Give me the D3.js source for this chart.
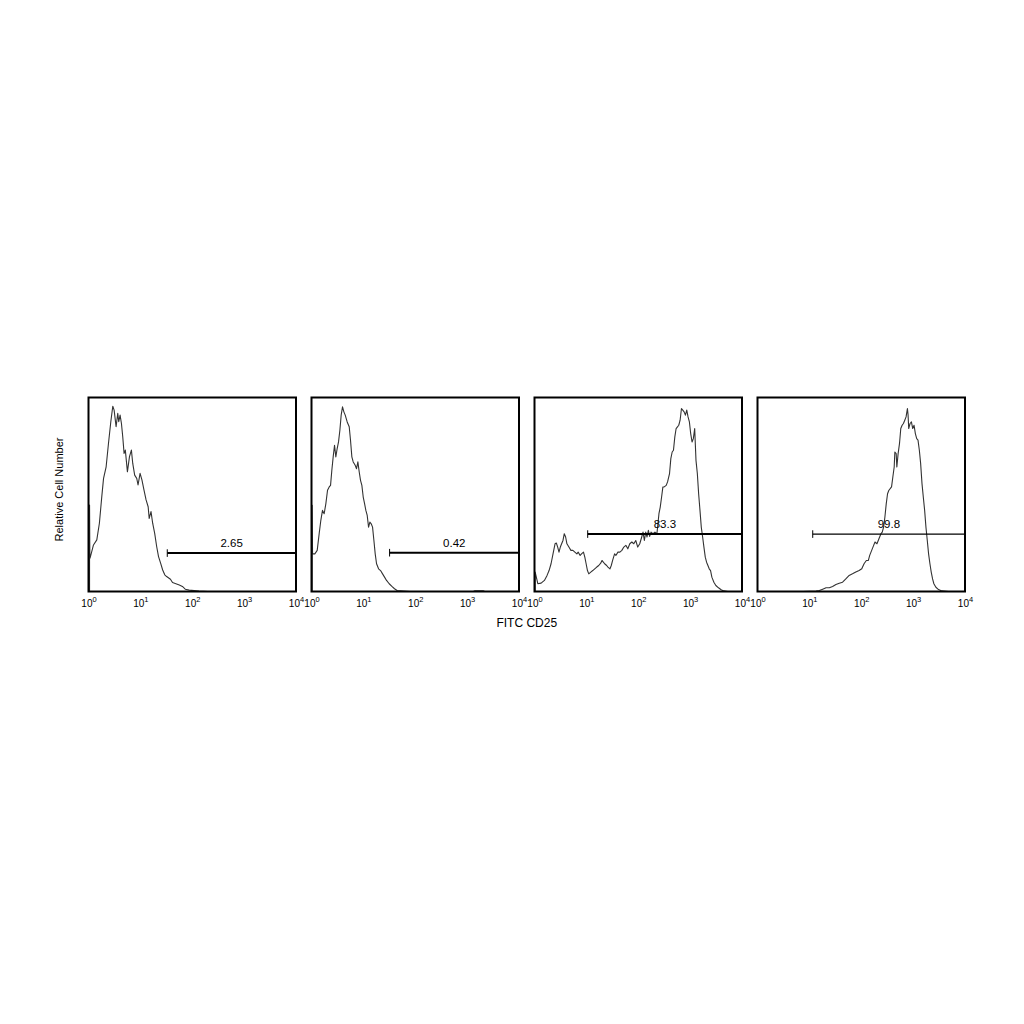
<!DOCTYPE html>
<html>
<head>
<meta charset="utf-8">
<script src="https://cdn.jsdelivr.net/npm/d3@7/dist/d3.min.js"></script>
<style>
  html, body { margin: 0; padding: 0; background: #fff; }
  svg { display: block; }
  text { font-family: Arial, "Liberation Sans", sans-serif; fill: #000; }
</style>
</head>
<body>
<svg id="chart" width="1024" height="1024"></svg>
<script>
// ---------- DATA (x = log10 of FITC CD25 intensity, y = relative cell number, % of full scale) ----------
const hist1 = [
  [0.02,0],[0.02,44.6],[0.026,18],[0.03,17.2],[0.096,24],[0.16,26.6],[0.21,35.2],[0.256,48.9],
  [0.29,58.3],[0.34,64.3],[0.385,76.3],[0.43,87.5],[0.468,95.5],[0.494,93.5],[0.532,84.9],
  [0.564,91.8],[0.583,87.5],[0.609,90.9],[0.635,86.6],[0.66,79.8],[0.686,71.2],[0.71,72.9],
  [0.75,61.7],[0.79,69.5],[0.827,72.9],[0.853,66],[0.89,60],[0.93,58.3],[0.955,54.9],
  [0.994,60.9],[1.03,57.5],[1.07,52.3],[1.11,47.2],[1.15,43.7],[1.17,37.7],[1.205,41.2],
  [1.237,35.2],[1.276,30],[1.314,23.2],[1.35,18],[1.39,14.6],[1.43,11.1],[1.47,8.6],
  [1.506,7.7],[1.58,6.3],[1.62,4.6],[1.75,3.4],[1.81,2.6],[1.865,1.2],[1.94,0.7],[2.13,0.2],[2.3,0]
];
const hist2 = [
  [0.013,0],[0.013,44.4],[0.02,19.4],[0.064,19.4],[0.11,21.2],[0.148,29.8],[0.18,36.7],
  [0.212,41.8],[0.244,40.1],[0.277,45.3],[0.309,52.2],[0.341,53.9],[0.367,54.7],[0.392,62.5],
  [0.418,69.4],[0.444,75.4],[0.469,69.4],[0.495,73.7],[0.521,77.1],[0.547,83.1],[0.572,90.9],
  [0.598,95.2],[0.624,92.6],[0.65,90.9],[0.688,87.4],[0.727,84.9],[0.752,78],[0.778,69.4],
  [0.804,66.8],[0.842,65.1],[0.868,63.3],[0.894,66.8],[0.92,61.6],[0.945,57.3],[0.971,54.7],
  [0.997,48.7],[1.023,45.3],[1.048,41.8],[1.074,39.2],[1.1,33.2],[1.125,35.8],[1.151,34.9],
  [1.177,33.2],[1.203,26.3],[1.228,19.4],[1.254,14.3],[1.293,11.7],[1.331,10.8],[1.37,9.1],
  [1.408,7.4],[1.447,5.7],[1.498,4],[1.55,2.6],[1.6,1.4],[1.65,0.5],[1.9,0],
  [3.12,0],[3.15,0.4],[3.31,0.4],[3.34,0]
];
const hist3 = [
  [0.013,0],[0.013,10],[0.064,4],[0.128,4.3],[0.191,5.7],[0.242,8.3],[0.281,10.8],[0.319,14.3],
  [0.357,19.4],[0.396,24.6],[0.421,25],[0.447,22.9],[0.472,20.3],[0.498,22.9],[0.523,24.6],
  [0.549,26.3],[0.574,29.8],[0.6,28.1],[0.625,24.6],[0.663,22.9],[0.702,21.2],[0.74,21.2],
  [0.778,20.3],[0.817,19.4],[0.842,20.3],[0.88,18.6],[0.906,19.4],[0.944,20.3],[0.97,17.7],
  [0.995,14.3],[1.021,10.8],[1.046,9.1],[1.085,10],[1.123,10.8],[1.161,11.7],[1.2,12.6],
  [1.238,13.4],[1.276,14.6],[1.301,16],[1.327,15.1],[1.352,14.3],[1.391,13.4],[1.416,12.6],
  [1.455,11.7],[1.48,13.4],[1.506,16],[1.544,19.4],[1.569,18.6],[1.608,20.3],[1.646,20.3],
  [1.684,21.2],[1.722,22.9],[1.761,23.8],[1.799,22],[1.837,24.6],[1.876,25.5],[1.914,24.6],
  [1.952,26.3],[1.99,22.9],[2.029,24.6],[2.067,28.1],[2.092,30.6],[2.118,26.3],[2.144,30.6],
  [2.169,28.1],[2.195,31.5],[2.22,28.4],[2.246,30.6],[2.284,29.8],[2.322,30.6],[2.36,29.8],
  [2.399,40.1],[2.424,43.5],[2.45,48.7],[2.475,53.9],[2.5,53.9],[2.539,54.7],[2.565,56.5],
  [2.603,60.8],[2.628,68.5],[2.654,71.9],[2.679,72.8],[2.705,79.7],[2.73,84],[2.756,84.9],
  [2.781,85.7],[2.807,88.3],[2.833,94.3],[2.858,93.5],[2.884,92.6],[2.909,90.9],[2.935,93.5],
  [2.96,90],[2.986,87.4],[3.011,81.4],[3.037,77.1],[3.062,78.8],[3.088,84],[3.113,67.6],
  [3.139,60.8],[3.164,50.4],[3.19,41.8],[3.215,33.2],[3.241,28.1],[3.266,22.9],[3.292,17.7],
  [3.317,15.1],[3.343,13.4],[3.368,11.7],[3.394,10.8],[3.419,7.4],[3.458,4.8],[3.496,3.1],
  [3.547,1.9],[3.598,0.9],[3.649,0.3],[3.726,0]
];
const hist4 = [
  [0.491,0],[0.874,0],[1.129,0.2],[1.193,0.5],[1.257,1.2],[1.321,1.9],[1.384,1.9],[1.448,2.6],
  [1.512,3.6],[1.576,4.3],[1.64,4.8],[1.703,6.5],[1.767,8.3],[1.831,9.1],[1.895,10],[1.959,10.8],
  [2.01,11.7],[2.054,14.3],[2.099,16],[2.137,16],[2.163,18.6],[2.201,21.2],[2.239,23.8],
  [2.265,25.5],[2.303,24.6],[2.341,27.2],[2.38,29.8],[2.405,30.6],[2.431,33.2],[2.456,38.4],
  [2.482,45.3],[2.507,50.4],[2.533,52.2],[2.558,53],[2.584,53.9],[2.609,59],[2.635,64.2],
  [2.648,71.9],[2.673,71.1],[2.686,64.2],[2.711,71.1],[2.737,76.2],[2.762,84],[2.788,85.7],
  [2.813,86.6],[2.839,88.3],[2.864,90],[2.89,94.3],[2.903,90.9],[2.915,84],[2.941,86.6],
  [2.967,87.4],[2.992,84],[3.018,85.7],[3.043,81.4],[3.069,78.8],[3.094,78],[3.12,72.8],
  [3.145,65.9],[3.171,55.6],[3.196,48.7],[3.222,41.8],[3.247,33.2],[3.273,26.3],[3.298,19.4],
  [3.324,14.3],[3.349,10],[3.375,6.5],[3.4,4],[3.439,2.2],[3.49,1],[3.553,0.3],[3.681,0]
];
const histograms = [hist1, hist2, hist3, hist4];

// marker gates
const gateStarts = [33, 32, 10.6, 11.6];
const gateEnd = 10000;
const gateLevels = [19.8, 20.0, 29.6, 29.6];
const gateLabels = ["2.65", "0.42", "83.3", "99.8"];

// axis
const tickValues = [1, 10, 100, 1000, 10000];
const tickExponents = ["0", "1", "2", "3", "4"];
const xDomain = [1, 10000];
const yDomain = [0, 100];
const xTitle = "FITC CD25";
const yTitle = "Relative Cell Number";

// ---------- LAYOUT ----------
const svg = d3.select("#chart");
const plotLeft = 88.5, plotTop = 397.5, panelW = 207.5, panelH = 194, gap = 15.5;
const gateWidths = [2, 2, 2, 1.2];

const x = d3.scaleLog().domain(xDomain).range([0, panelW]);
const y = d3.scaleLinear().domain(yDomain).range([panelH, 0]);
const line = d3.line().x(d => x(Math.pow(10, d[0]))).y(d => y(d[1]));

histograms.forEach((h, i) => {
  const g = svg.append("g").attr("transform", `translate(${plotLeft + i * (panelW + gap)},${plotTop})`);

  g.append("defs").append("clipPath").attr("id", "clip" + i)
    .append("rect").attr("width", panelW).attr("height", panelH);

  g.append("path")
    .datum(h)
    .attr("clip-path", `url(#clip${i})`)
    .attr("d", line)
    .attr("fill", "none")
    .attr("stroke", "#333")
    .attr("stroke-width", 1.1)
    .attr("stroke-linejoin", "round");

  // gate
  const gy = y(gateLevels[i]);
  const gx0 = x(gateStarts[i]), gx1 = x(gateEnd);
  g.append("line").attr("x1", gx0).attr("x2", gx1).attr("y1", gy).attr("y2", gy)
    .attr("stroke", "#000").attr("stroke-width", gateWidths[i]);
  g.append("line").attr("x1", gx0).attr("x2", gx0).attr("y1", gy - 3.8).attr("y2", gy + 3.8)
    .attr("stroke", "#000").attr("stroke-width", 1);
  const mid = x(Math.sqrt(gateStarts[i] * gateEnd));
  g.append("text").attr("x", mid).attr("y", gy - 6)
    .attr("text-anchor", "middle").attr("font-size", 11.5)
    .text(gateLabels[i]);

  // frame
  g.append("rect").attr("width", panelW).attr("height", panelH)
    .attr("fill", "none").attr("stroke", "#000").attr("stroke-width", 2);

  // axis
  const axis = d3.axisBottom(x).tickValues(tickValues).tickSize(0).tickPadding(0).tickFormat(() => "");
  const ag = g.append("g").attr("transform", `translate(0,${panelH})`).call(axis);
  ag.select(".domain").remove();
  ag.selectAll(".tick text").each(function(d, k) {
    const t = d3.select(this)
      .attr("y", 15).attr("dy", null)
      .attr("text-anchor", "middle")
      .attr("fill", "#000")
      .style("font-family", "Arial, 'Liberation Sans', sans-serif");
    t.append("tspan").attr("font-size", 10).text("10");
    t.append("tspan").attr("font-size", 7.5).attr("dy", -4.5).text(tickExponents[k]);
  });
});

// titles
const totalRight = plotLeft + 4 * panelW + 3 * gap;
svg.append("text")
  .attr("x", (plotLeft + totalRight) / 2).attr("y", 627)
  .attr("text-anchor", "middle").attr("font-size", 12)
  .text(xTitle);

svg.append("text")
  .attr("transform", `translate(63,${plotTop + panelH / 2 - 5}) rotate(-90)`)
  .attr("text-anchor", "middle").attr("font-size", 11)
  .text(yTitle);
</script>
</body>
</html>
